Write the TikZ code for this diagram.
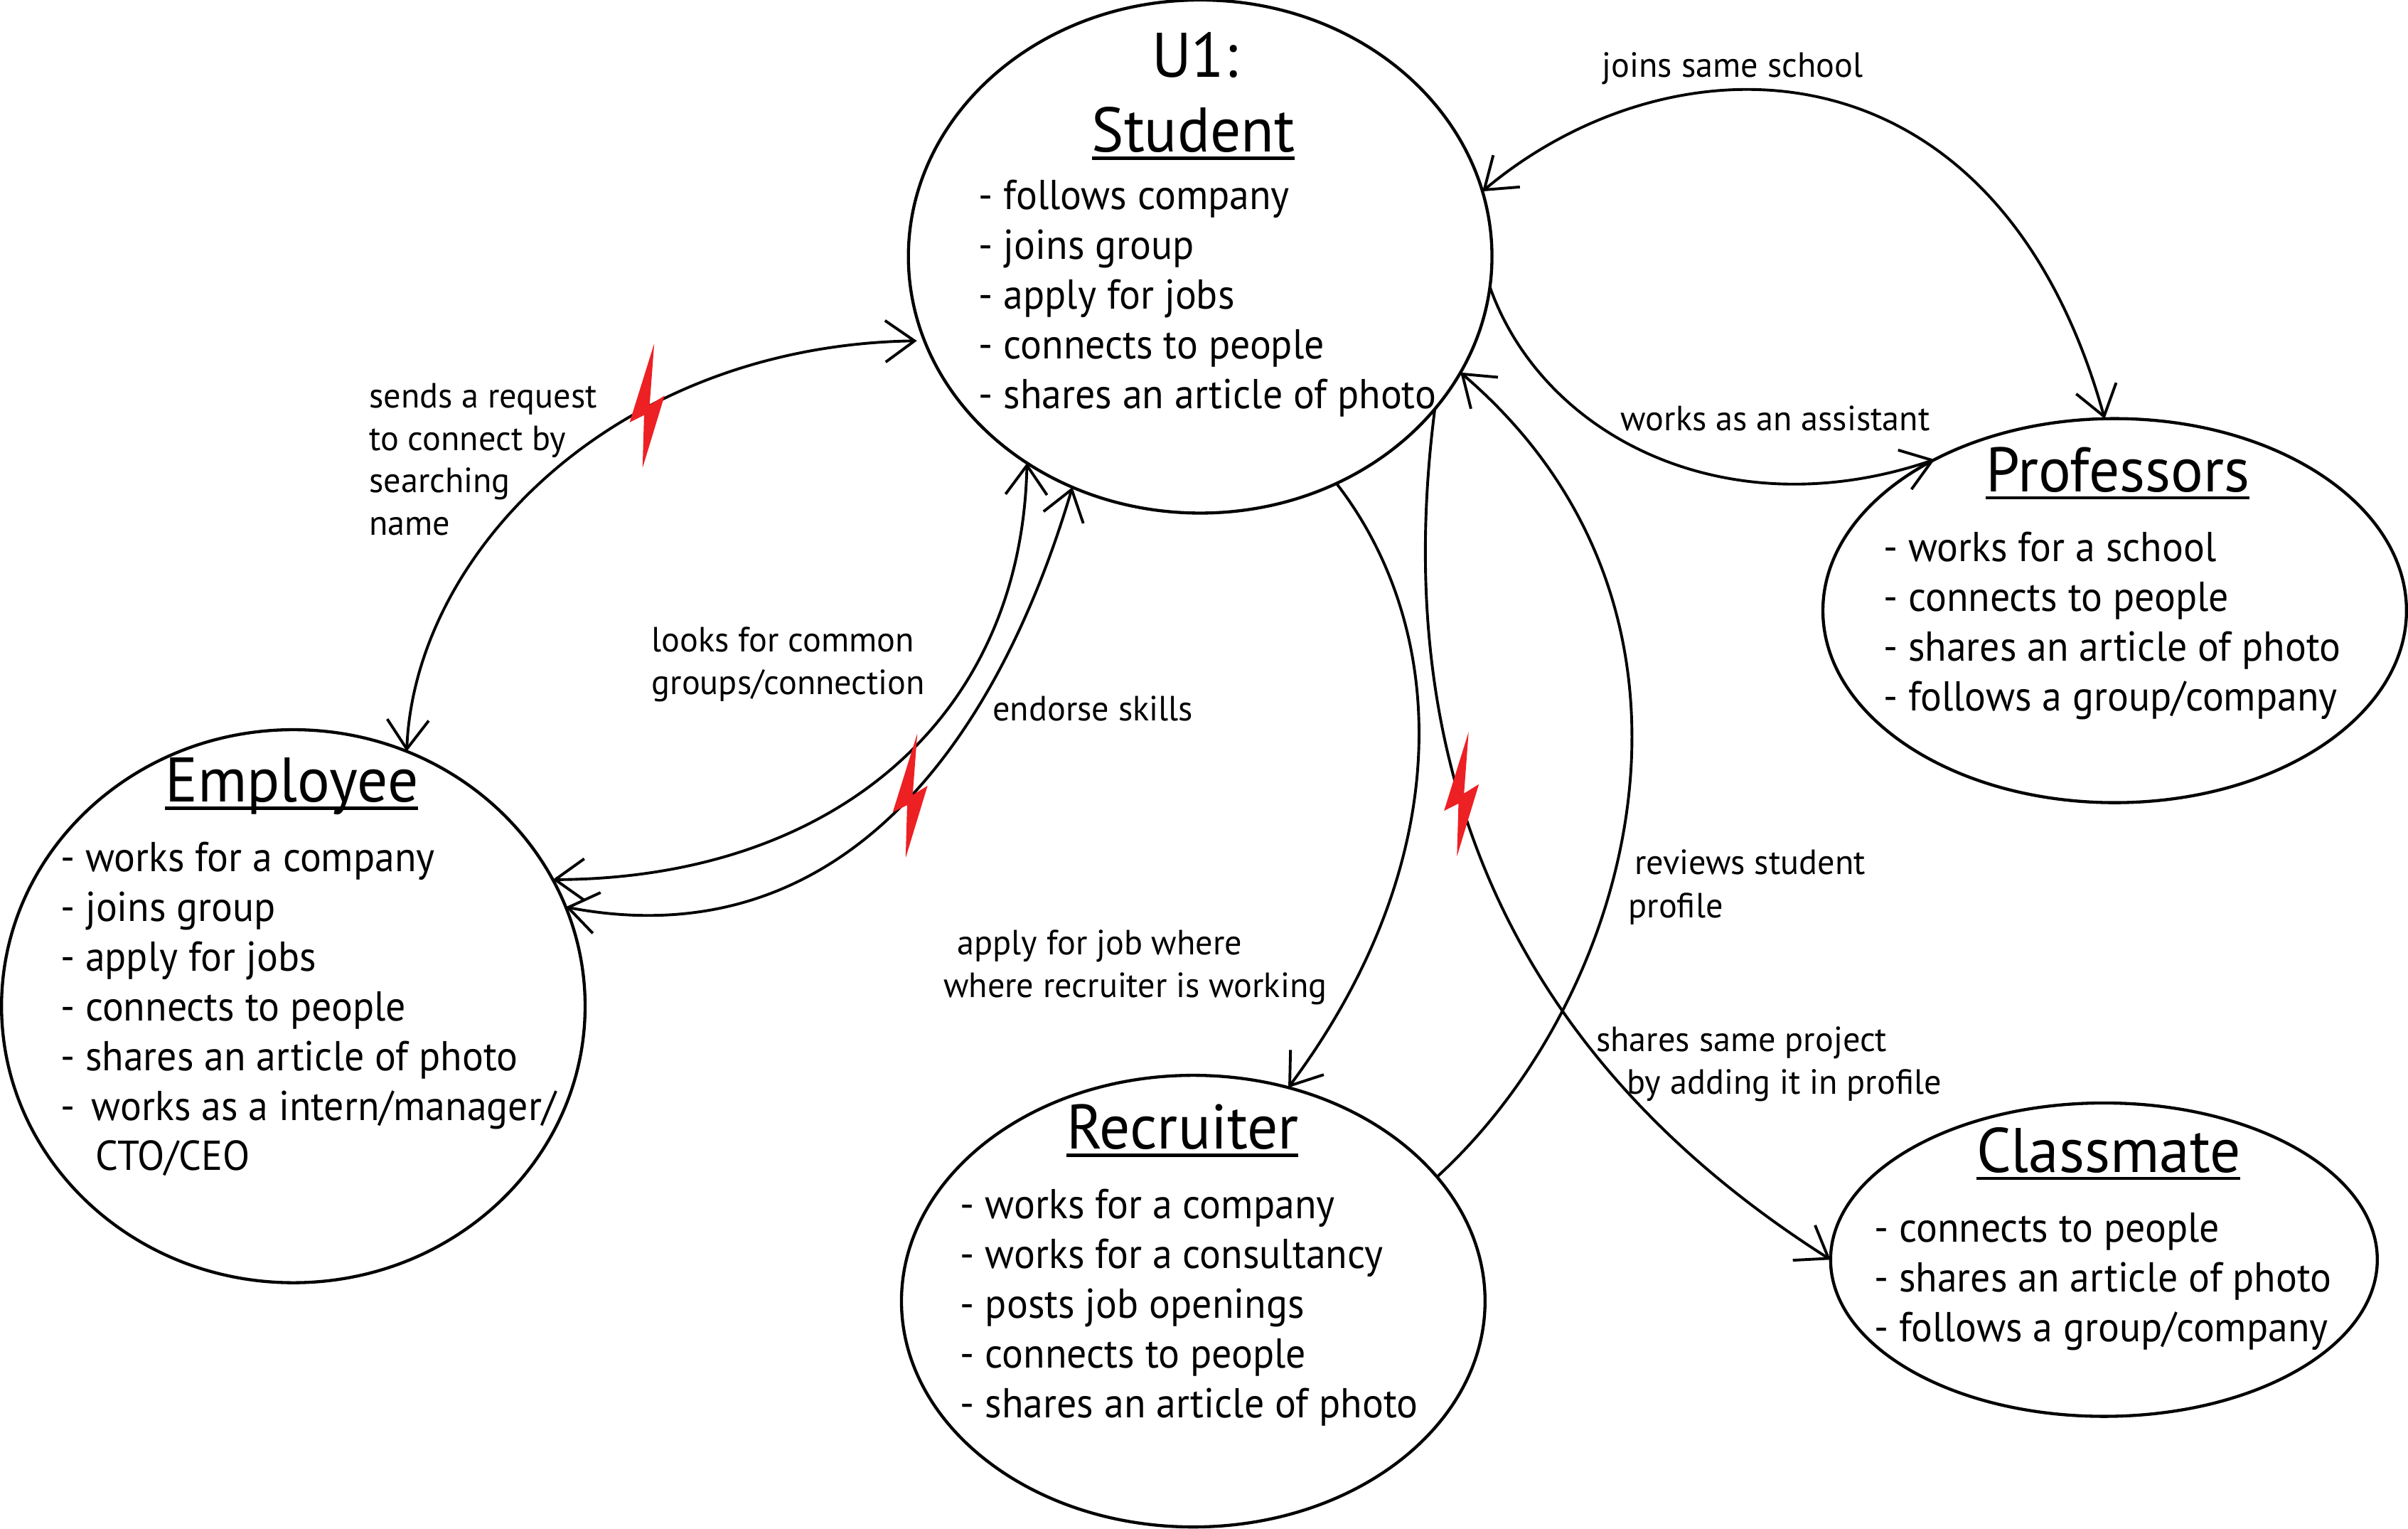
\documentclass[tikz,border=0pt]{standalone}
\usepackage{fontspec}
\setmainfont{PT Sans}
\newfontfamily\listfam[FakeStretch=0.95]{PT Sans}
\newfontfamily\edgefam[FakeStretch=0.98]{PT Sans}
\newfontfamily\titlefam[FakeStretch=0.965]{PT Sans}
\usetikzlibrary{shapes.geometric,arrows.meta}
\definecolor{boltred}{HTML}{ED2024}
\newcommand\ulined[1]{\begingroup\setbox0\hbox{#1}\leavevmode\rlap{\rule[-2.6pt]{\wd0}{1.1pt}}\box0\endgroup}
\newcommand\firstl{\rule{0pt}{12pt}}
\newcommand\firsts{\rule{0pt}{10pt}}
\newcommand\boltat[1]{\fill[boltred,shift={#1}] (0,0)--(-3,40)--(6.7,34)--(-7.6,81)--(-6.6,46.6)--(-16,51.3)--cycle;}
\tikzset{
  actor/.style={ellipse,draw=black,line width=1pt,inner sep=0pt,outer sep=0pt},
  titletext/.style={anchor=base,inner sep=0pt,font=\titlefam\fontsize{20.5}{24}\selectfont},
  listtext/.style={anchor=north west,inner sep=0pt,align=left,font=\listfam\fontsize{13.6}{16.2}\selectfont},
  edgetext/.style={anchor=north west,inner sep=0pt,align=left,font=\edgefam\fontsize{11.4}{13.85}\selectfont},
  link/.style={line width=0.9pt,draw=black},
  oneway/.style={link,-{Straight Barb[length=9.5pt,width=13.5pt,line width=0.9pt]}},
  twoway/.style={link,{Straight Barb[length=9.5pt,width=13.5pt,line width=0.9pt]}-{Straight Barb[length=9.5pt,width=13.5pt,line width=0.9pt]}}
}
\begin{document}
\begin{tikzpicture}[x=0.5pt,y=-0.5pt]
\useasboundingbox (0,0) rectangle (1568,995.3);
% actors
\node[actor,minimum width=190pt,minimum height=167pt] (student) at (781.5,167) {};
\node[actor,minimum width=190pt,minimum height=180pt] (employee) at (191,655) {};
\node[actor,minimum width=190pt,minimum height=125pt] (professors) at (1377,397.5) {};
\node[actor,minimum width=190pt,minimum height=147pt] (recruiter) at (777,847) {};
\node[actor,minimum width=178pt,minimum height=102pt] (classmate) at (1370,820) {};
% titles
\node[titletext] (u1) at (778,50) {U1:};
\node[titletext] (tstudent) at (777,99) {\ulined{Student}};
\node[titletext] (temployee) at (190,522) {\ulined{Employee}};
\node[titletext] (tprofessors) at (1379,320) {\ulined{Professors}};
\node[titletext] (trecruiter) at (770,748) {\ulined{Recruiter}};
\node[titletext] (tclassmate) at (1373,763) {\ulined{Classmate}};
% lists
\node[listtext] (lstudent) at (637,112) {\firstl- follows company\\- joins group\\- apply for jobs\\- connects to people\\- shares an article of photo};
\node[listtext] (lemployee) at (39,543) {\firstl- works for a company\\- joins group\\- apply for jobs\\- connects to people\\- shares an article of photo\\-\hspace{5.5pt}works as a intern/manager/\\\hspace{11.5pt}CTO/CEO};
\node[listtext] (lprofessors) at (1226,341) {\firstl- works for a school\\- connects to people\\- shares an article of photo\\- follows a group/company};
\node[listtext] (lrecruiter) at (625,769) {\firstl- works for a company\\- works for a consultancy\\- posts job openings\\- connects to people\\- shares an article of photo};
\node[listtext] (lclassmate) at (1220,784) {\firstl- connects to people\\- shares an article of photo\\- follows a group/company};
% connectors
\draw[twoway] (employee.66.6) .. controls (270,360) and (400,225) .. ([xshift=-2.5pt]student.197.2);
\draw[twoway] (student.230.6) .. controls (665,470) and (540,572) .. (employee.26.2);
\draw[twoway] (student.241.1) .. controls (650,480) and (550,625) .. (employee.20.2);
\draw[oneway] (student.-59.8) .. controls (944,410) and (949,560) .. (recruiter.66.8);
\draw[oneway] (recruiter.27.4) .. controls (1063,650) and (1135,400) .. (student.-24);
\draw[oneway] (student.-33.9) .. controls (912,440) and (940,660) .. (classmate.180.6);
\draw[twoway] (student.13.9) .. controls (1090,20) and (1300,20) .. (professors.93.2);
\draw[oneway] (student.-6) .. controls (1005,285) and (1125,345) .. (professors.140.6);
% connector labels
\node[edgetext] (e1) at (240,245) {\firsts sends a request\\to connect by\\searching\\name};
\node[edgetext] (e2) at (424,404) {\firsts looks for common\\groups/connection};
\node[edgetext] (e3) at (646,449) {\firsts endorse skills};
\node[edgetext] (e4) at (623,601) {\firsts apply for job where};
\node[edgetext] (e5) at (614,629) {\firsts where recruiter is working};
\node[edgetext] (e6) at (1064,549) {\firsts reviews student};
\node[edgetext] (e7) at (1060,577) {\firsts profile};
\node[edgetext] (e8) at (1039,664) {\firsts shares same project};
\node[edgetext] (e9) at (1059,692) {\firsts by adding it in profile};
\node[edgetext] (e10) at (1043,30) {\firsts joins same school};
\node[edgetext] (e11) at (1055,260) {\firsts works as an assistant};
% bolts
\boltat{(426,223.6)}
\boltat{(597.3,477.5)}
\boltat{(956.3,476.5)}
\end{tikzpicture}
\end{document}
